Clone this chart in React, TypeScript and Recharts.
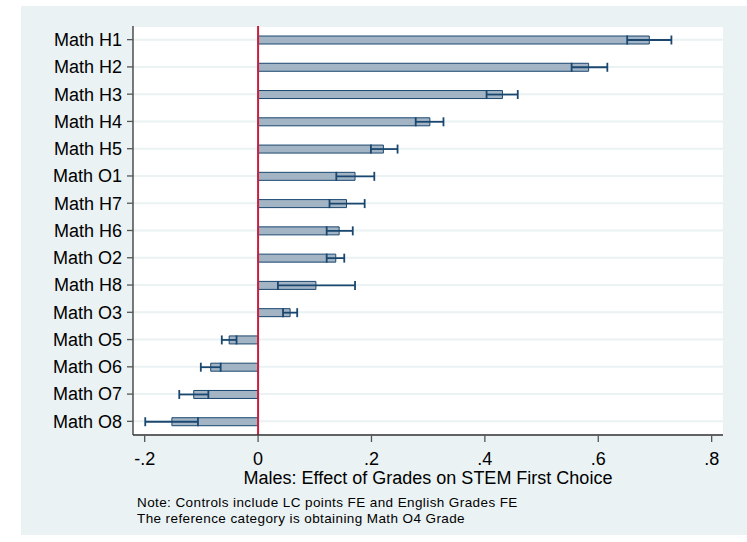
import { BarChart, Bar, XAxis, YAxis, CartesianGrid, ReferenceLine, ErrorBar } from 'recharts'

// grade categories, top to bottom
const categories = [
  'Math H1', 'Math H2', 'Math H3', 'Math H4', 'Math H5', 'Math O1', 'Math H7', 'Math H6',
  'Math O2', 'Math H8', 'Math O3', 'Math O5', 'Math O6', 'Math O7', 'Math O8',
]
// point estimates and 95% CI bounds
const estimates = [0.69, 0.583, 0.431, 0.303, 0.221, 0.171, 0.156, 0.143, 0.137, 0.102, 0.0565, -0.051, -0.0835, -0.1135, -0.152]
const lowerCI = [0.651, 0.553, 0.403, 0.278, 0.199, 0.138, 0.126, 0.121, 0.121, 0.035, 0.044, -0.064, -0.101, -0.139, -0.199]
const upperCI = [0.729, 0.616, 0.458, 0.327, 0.246, 0.205, 0.188, 0.167, 0.152, 0.171, 0.069, -0.038, -0.066, -0.0877, -0.106]
const xTicks = [-0.2, 0, 0.2, 0.4, 0.6, 0.8]

const NAVY = '#1a476f'
const BG = '#eaf2f3'
const FONT = '"Liberation Sans", Arial, Helvetica, sans-serif'

const data = categories.map((name, i) => ({
  name,
  b: estimates[i],
  err: [estimates[i] - lowerCI[i], upperCI[i] - estimates[i]],
}))

// Stata style labels: drop the leading zero
const fmt = (v: number) => (v === 0 ? '0' : String(v).replace('0.', '.'))

export default function App() {
  return (
    <div style={{ position: 'absolute', left: 0, top: 0, width: 747, height: 542, background: '#fff', fontFamily: FONT }}>
      <div style={{ position: 'absolute', left: 21, top: 6, width: 726, height: 529, background: BG }} />
      <div style={{ position: 'absolute', left: 0, top: 0 }}>
        <BarChart
          width={747}
          height={542}
          data={data}
          layout="vertical"
          margin={{ top: 26, right: 24, bottom: 0, left: 0 }}
          barCategoryGap={0}
        >
          <CartesianGrid horizontal vertical={false} stroke={BG} strokeWidth={2} fill="#ffffff" />
          <XAxis
            type="number"
            domain={[-0.2206, 0.82]}
            allowDataOverflow
            ticks={xTicks}
            tickFormatter={fmt}
            height={107}
            tickSize={7}
            tickMargin={10}
            axisLine={{ stroke: '#333', strokeWidth: 1.3 }}
            tickLine={{ stroke: '#555', strokeWidth: 1.3 }}
            tick={{ fontSize: 18, fill: '#000', fontFamily: FONT }}
          />
          <YAxis
            type="category"
            dataKey="name"
            width={133}
            interval={0}
            tickSize={6}
            tickMargin={5}
            axisLine={{ stroke: '#333', strokeWidth: 1.3 }}
            tickLine={{ stroke: '#555', strokeWidth: 1.3 }}
            tick={{ fontSize: 18, fill: '#000', fontFamily: FONT }}
          />
          <ReferenceLine x={0} stroke="#cc1f3e" strokeWidth={2} />
          <Bar dataKey="b" fill="#a3b5c5" stroke={NAVY} strokeWidth={1} barSize={8} isAnimationActive={false}>
            <ErrorBar dataKey="err" direction="x" width={4.5} stroke={NAVY} strokeWidth={1.8} isAnimationActive={false} />
          </Bar>
        </BarChart>
      </div>
      <div style={{ position: 'absolute', left: 133, width: 590, top: 467, textAlign: 'center', fontSize: 18, lineHeight: '22px', color: '#000' }}>
        Males: Effect of Grades on STEM First Choice
      </div>
      <div style={{ position: 'absolute', left: 137, top: 495, fontSize: 13.5, lineHeight: '15.5px', letterSpacing: 0.4, color: '#000', whiteSpace: 'nowrap' }}>
        <div>Note: Controls include LC points FE and English Grades FE</div>
        <div>The reference category is obtaining Math O4 Grade</div>
      </div>
    </div>
  )
}
